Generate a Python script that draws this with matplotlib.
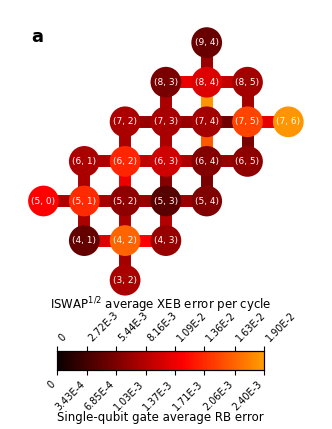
import matplotlib
matplotlib.use("Agg")
import matplotlib.pyplot as plt
from matplotlib.colors import LinearSegmentedColormap, Normalize
from matplotlib.cm import ScalarMappable
import numpy as np

# qubits (row, col) and single-qubit RB error
qubits = [(9, 4), (8, 3), (8, 4), (8, 5), (7, 2), (7, 3), (7, 4), (7, 5), (7, 6),
          (6, 1), (6, 2), (6, 3), (6, 4), (6, 5), (5, 0), (5, 1), (5, 2), (5, 3),
          (5, 4), (4, 1), (4, 2), (4, 3), (3, 2)]
rb_err = [0.58e-3, 0.67e-3, 1.25e-3, 0.91e-3, 0.96e-3, 0.94e-3, 0.91e-3, 1.87e-3, 2.35e-3,
          0.96e-3, 1.68e-3, 1.18e-3, 0.74e-3, 0.79e-3, 1.46e-3, 1.70e-3, 0.79e-3, 0.48e-3,
          0.72e-3, 0.55e-3, 2.06e-3, 0.86e-3, 0.96e-3]

# couplers and ISWAP^(1/2) XEB error
pairs = [((9, 4), (8, 4)), ((8, 3), (8, 4)), ((8, 4), (8, 5)), ((8, 3), (7, 3)),
         ((8, 4), (7, 4)), ((8, 5), (7, 5)), ((7, 2), (7, 3)), ((7, 3), (7, 4)),
         ((7, 4), (7, 5)), ((7, 5), (7, 6)), ((7, 2), (6, 2)), ((7, 3), (6, 3)),
         ((7, 4), (6, 4)), ((7, 5), (6, 5)), ((6, 1), (6, 2)), ((6, 2), (6, 3)),
         ((6, 3), (6, 4)), ((6, 4), (6, 5)), ((6, 1), (5, 1)), ((6, 2), (5, 2)),
         ((6, 3), (5, 3)), ((6, 4), (5, 4)), ((5, 0), (5, 1)), ((5, 1), (5, 2)),
         ((5, 2), (5, 3)), ((5, 3), (5, 4)), ((5, 1), (4, 1)), ((5, 2), (4, 2)),
         ((5, 3), (4, 3)), ((4, 1), (4, 2)), ((4, 2), (4, 3)), ((4, 2), (3, 2))]
xeb_err = [0.68e-2, 1.06e-2, 0.89e-2, 0.76e-2, 1.86e-2, 0.72e-2, 0.68e-2, 0.68e-2,
           0.49e-2, 1.05e-2, 0.76e-2, 0.76e-2, 1.58e-2, 0.53e-2, 0.76e-2, 0.86e-2,
           0.76e-2, 0.68e-2, 0.76e-2, 1.08e-2, 0.59e-2, 0.53e-2, 0.76e-2, 0.72e-2,
           0.68e-2, 0.68e-2, 0.76e-2, 0.76e-2, 0.80e-2, 0.99e-2, 1.14e-2, 0.72e-2]

rb_ticks = [0, 3.43e-4, 6.85e-4, 1.03e-3, 1.37e-3, 1.71e-3, 2.06e-3, 2.40e-3]
rb_labels = ["0", "3.43E-4", "6.85E-4", "1.03E-3", "1.37E-3", "1.71E-3", "2.06E-3", "2.40E-3"]
xeb_labels = ["0", "2.72E-3", "5.44E-3", "8.16E-3", "1.09E-2", "1.36E-2", "1.63E-2", "1.90E-2"]
rb_max = 2.40e-3
xeb_max = 1.90e-2

# truncated 'hot' colormap (black -> red -> orange)
cmap = LinearSegmentedColormap.from_list("hot_trunc", plt.cm.hot(np.linspace(0, 0.6, 256)))

fig = plt.figure(figsize=(3.32, 4.29), dpi=100)
ax = fig.add_axes([0, 1 - 300 / 429, 1, 300 / 429])
ax.set_xlim(-1.066, 7.071)
ax.set_ylim(2.5, 10.076)
ax.axis("off")

for (a, b), e in zip(pairs, xeb_err):
    ax.plot([a[1], b[1]], [a[0], b[0]], color=cmap(e / xeb_max), lw=8.6,
            solid_capstyle="butt", zorder=1)

cols = [q[1] for q in qubits]
rows = [q[0] for q in qubits]
ax.scatter(cols, rows, s=490, c=[cmap(v / rb_max) for v in rb_err], zorder=2,
           linewidths=0)
for q in qubits:
    ax.text(q[1], q[0], "(%d, %d)" % q, color="white", fontsize=6.5,
            ha="center", va="center", zorder=3)

fig.text(37 / 332, 1 - 37 / 429, "a", fontsize=13, fontweight="bold", ha="center", va="center")

# colorbar
cax = fig.add_axes([57 / 332, (429 - 370) / 429, 207 / 332, 19 / 429])
sm = ScalarMappable(norm=Normalize(0, rb_max), cmap=cmap)
cb = fig.colorbar(sm, cax=cax, orientation="horizontal")
cb.set_ticks(rb_ticks)
cb.set_ticklabels(rb_labels)
cax.tick_params(axis="x", pad=3, labelsize=7)
plt.setp(cax.get_xticklabels(), rotation=45, ha="right", va="top")

top = cax.twiny()
top.set_xlim(0, rb_max)
top.set_xticks(rb_ticks)
top.set_xticklabels(xeb_labels, rotation=45, ha="left", va="bottom", fontsize=7)
top.tick_params(axis="x", pad=2)

fig.text(0.484, 1 - 305 / 429, "ISWAP$^{1/2}$ average XEB error per cycle",
         fontsize=8.5, ha="center", va="center")
fig.text(0.484, 1 - 418 / 429, "Single-qubit gate average RB error",
         fontsize=8.5, ha="center", va="center")

fig.savefig("out.png", dpi=100)
